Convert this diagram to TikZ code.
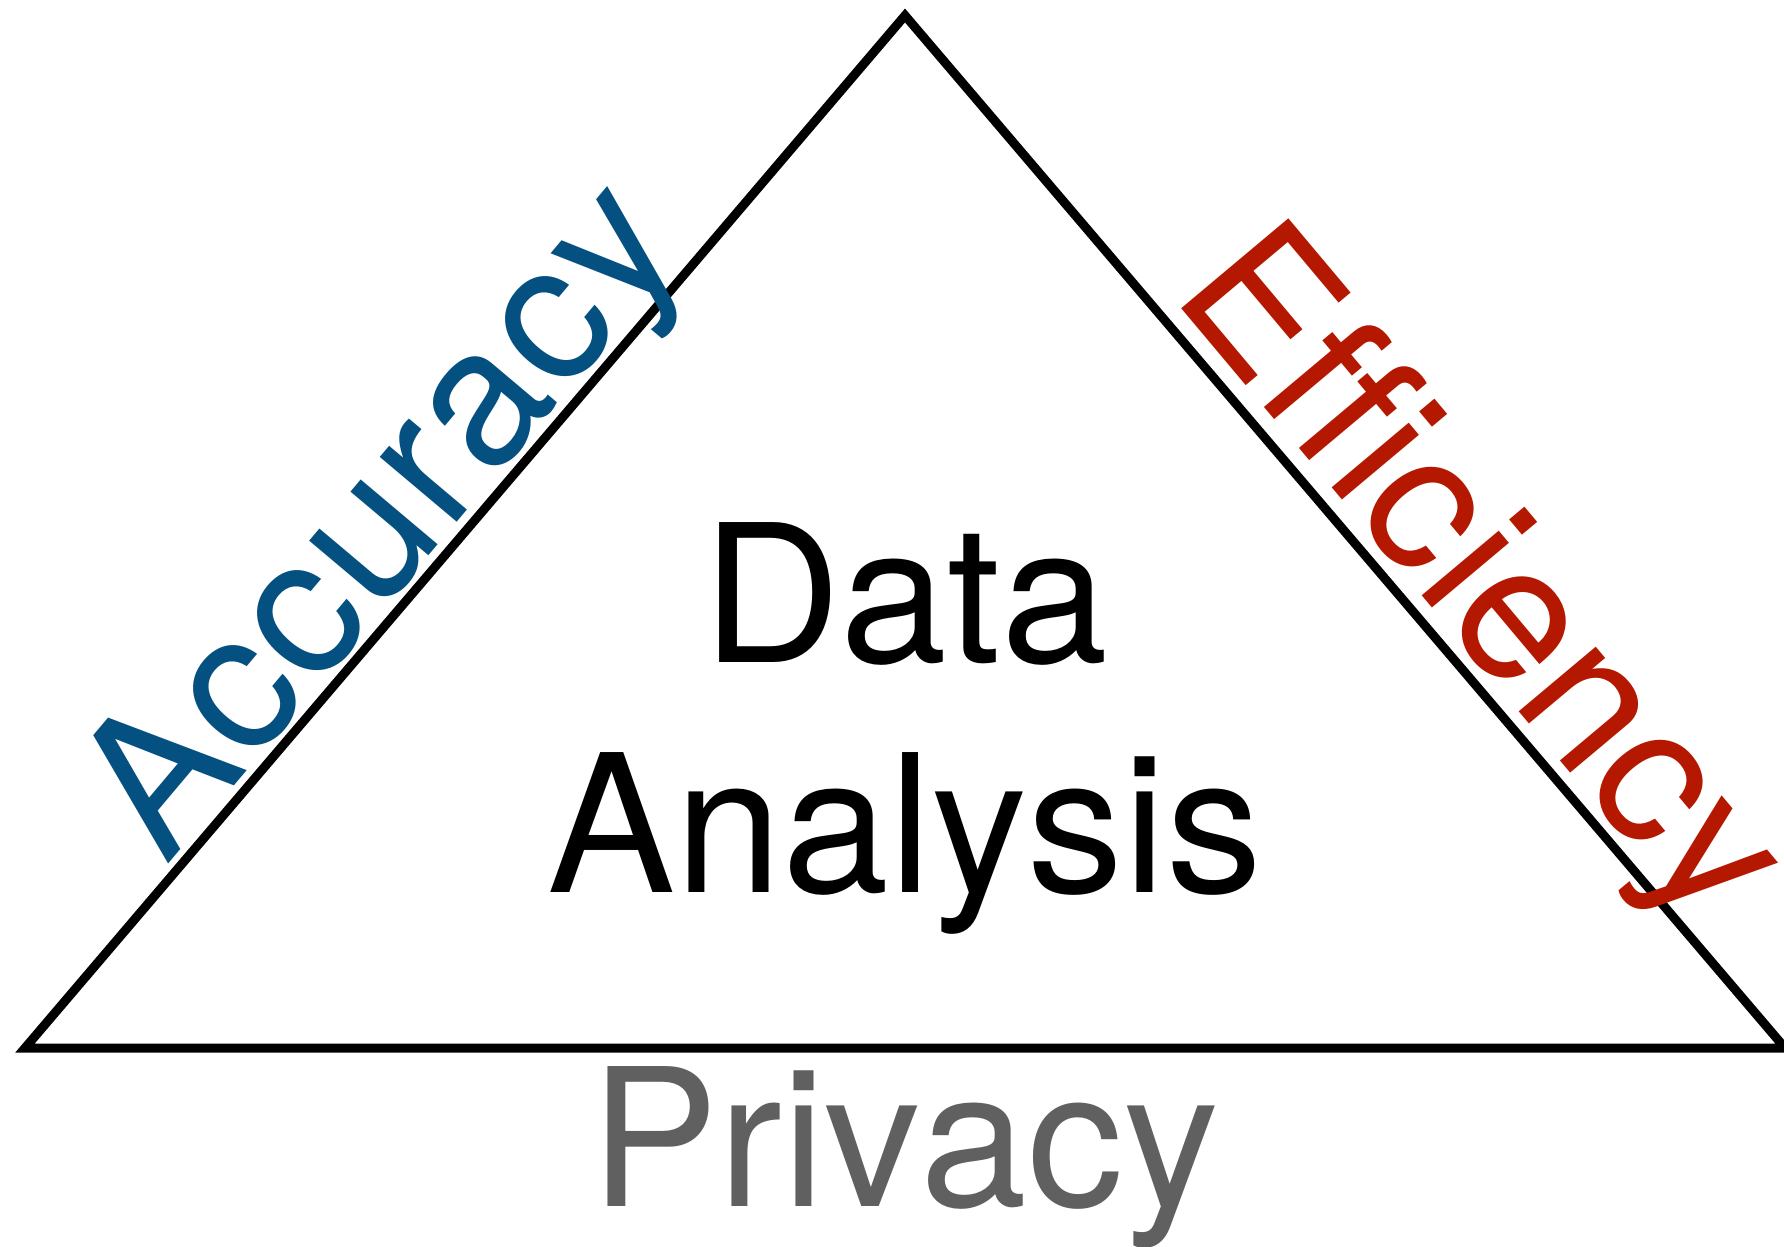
\documentclass[tikz,border=0pt]{standalone}
\usepackage{fontspec}
\setmainfont{TeX Gyre Heros}[Ligatures=CommonOff, Kerning=Off]
\definecolor{accblue}{RGB}{4,80,128}
\definecolor{effred}{RGB}{181,24,0}
\definecolor{privgray}{RGB}{96,96,96}
\tikzset{
  edge/.style={draw=black, line width=4.5pt, line join=miter},
  bigtext/.style={inner sep=0pt, font=\fontsize{96}{114.6}\selectfont},
}
\begin{document}
\begin{tikzpicture}[x=0.5pt, y=-0.5pt]
  % canvas in pixel units, y grows downward
  \clip (0,0) rectangle (1784,1247);
  \fill[white] (0,0) rectangle (1784,1247);

  % triangle corners
  \coordinate (apex) at (905,15.5);
  \coordinate (bl) at (25,1048);
  \coordinate (br) at (1785,1048);
  \draw[edge] (apex) -- (br) -- (bl) -- cycle;

  % centre label
  \node[bigtext, anchor=base] (data) at (905,662.7) {Data};
  \node[bigtext, anchor=base] (analysis) at (905,892) {Analysis};

  % side labels, slightly tracked out
  \node[bigtext, text=accblue, rotate=49.9, anchor=base west] (accuracy) at (166.6,867.1)
    {\addfontfeatures{LetterSpace=1.4}Accuracy};
  \node[bigtext, text=effred, rotate=-50, anchor=base west] (efficiency) at (1170.3,295.2)
    {\addfontfeatures{LetterSpace=0.5}Efficiency};
  \node[bigtext, text=privgray, anchor=base] (privacy) at (905,1206) {Privacy};
\end{tikzpicture}
\end{document}
